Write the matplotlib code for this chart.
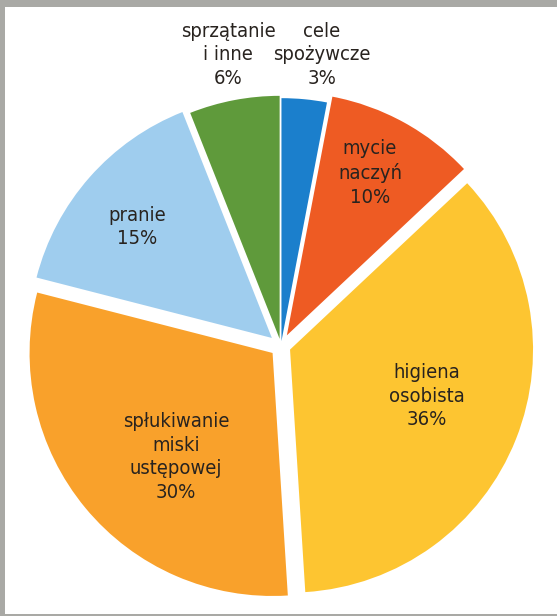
import matplotlib.pyplot as plt
from matplotlib.patches import Rectangle
from matplotlib import font_manager

# data
labels = ["cele\nspożywcze", "mycie\nnaczyń", "higiena\nosobista",
          "spłukiwanie\nmiski\nustępowej", "pranie", "sprzątanie\ni inne"]
shares = [3, 10, 36, 30, 15, 6]
colors = ["#1b7fcc", "#ee5b23", "#fdc531", "#f9a12b", "#9fcdee", "#5f9a3b"]
explode = [0.02, 0.05, 0.04, 0.045, 0.05, 0.03]

# label centres (pixel x, pixel y from top)
label_pos = [(322, 55), (370, 173), (427, 396), (176, 457), (137, 227), (228, 55)]

W, H = 557, 616
fig = plt.figure(figsize=(W / 100, H / 100), dpi=100)
fig.patch.set_facecolor("#a9a9a5")
ax = fig.add_axes([0, 0, 1, 1])

# white panel
ax.add_patch(Rectangle((5, 2), W - 5, H - 9, facecolor="white", edgecolor="none", zorder=0))

cx, cy, r = 281, H - 346, 243
ax.pie(shares, colors=colors, explode=[e * r for e in explode], startangle=90,
       counterclock=False, center=(cx, cy), radius=r,
       wedgeprops=dict(linewidth=0), frame=True)
ax.set_xlim(0, W)
ax.set_ylim(0, H)
ax.set_aspect("equal")
ax.axis("off")

# look for a narrow font, the reference uses a condensed grotesque
narrow = None
for f in font_manager.fontManager.ttflist:
    n = (f.name + " " + str(f.fname)).lower()
    if ("narrow" in n or "condensed" in n) and "bold" not in n and "italic" not in n \
            and "oblique" not in n and "light" not in n:
        narrow = f.fname
        break
if narrow:
    fp = font_manager.FontProperties(fname=narrow, size=14.5)
else:
    fp = font_manager.FontProperties(family="DejaVu Sans", size=12.5)

for lab, s, (x, y) in zip(labels, shares, label_pos):
    ax.text(x, H - y, "{}\n{}%".format(lab, s), ha="center", va="center",
            fontproperties=fp, color="#28231f", linespacing=1.3)

fig.savefig("out.png", dpi=100, facecolor=fig.get_facecolor())
